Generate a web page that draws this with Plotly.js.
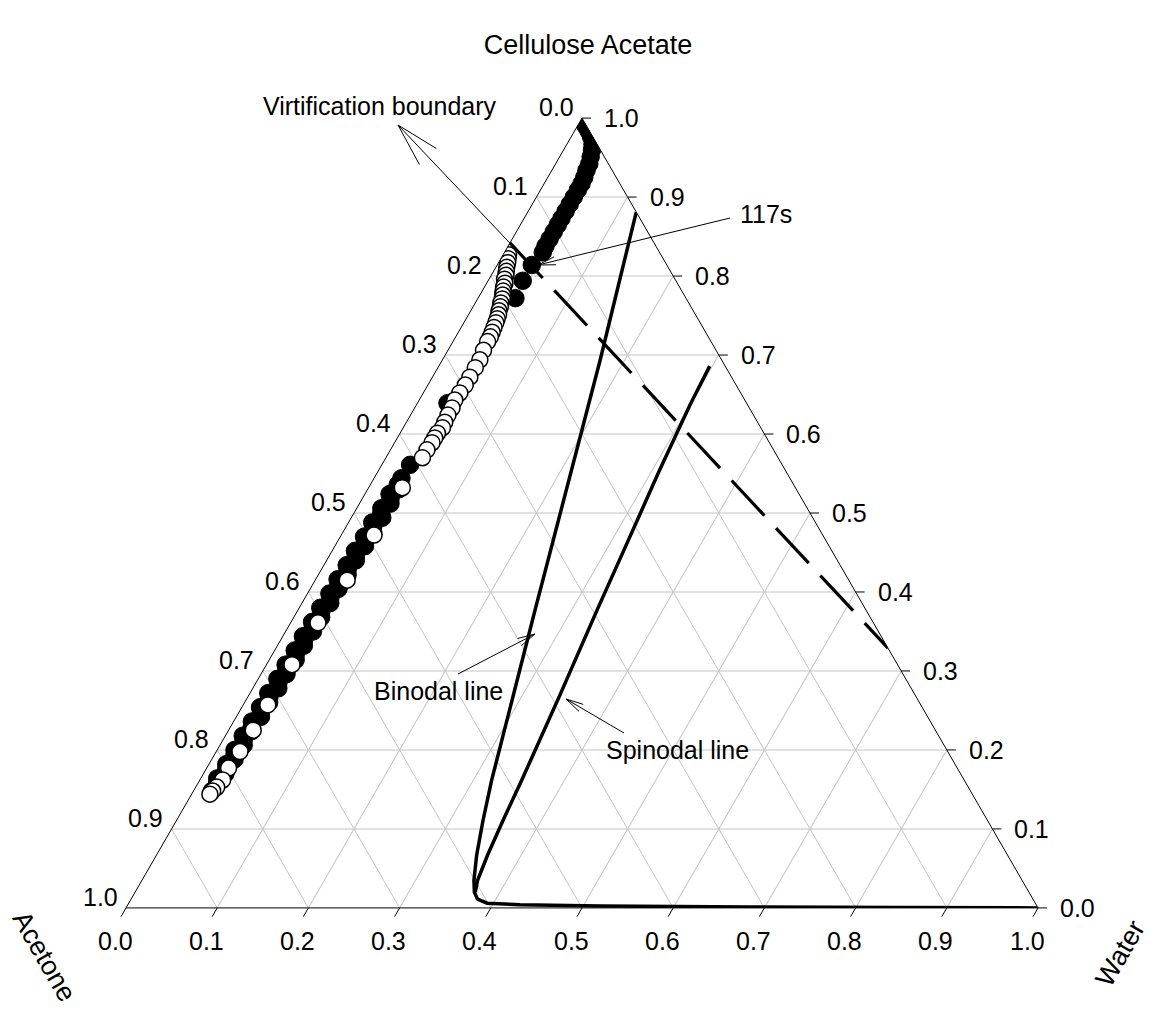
<!DOCTYPE html>
<html>
<head>
<meta charset="utf-8">
<script src="https://cdn.plot.ly/plotly-3.0.1.min.js"></script>
<style>html,body{margin:0;padding:0;background:#ffffff;}</style>
</head>
<body>
<div id="chart" style="width:1156px;height:1010px;"></div>
<script>
// ---------------- DATA ----------------
// Ternary components: CA = Cellulose Acetate (top), Water (bottom-right); Acetone = 1 - CA - Water
const tickFractions = [0.0, 0.1, 0.2, 0.3, 0.4, 0.5, 0.6, 0.7, 0.8, 0.9, 1.0];
const tickLabels = ['0.0', '0.1', '0.2', '0.3', '0.4', '0.5', '0.6', '0.7', '0.8', '0.9', '1.0'];

// Filled circles (film composition path)
const filledCA = [0.990, 0.984, 0.976, 0.967, 0.960, 0.951, 0.942, 0.934, 0.925, 0.917, 0.909, 0.900, 0.891, 0.882, 0.873, 0.865, 0.856, 0.847, 0.838, 0.830, 0.814, 0.794, 0.772,
  0.639, 0.561, 0.544,
  0.536, 0.530, 0.524, 0.518, 0.512, 0.506, 0.500, 0.494, 0.488, 0.482, 0.476, 0.470, 0.464, 0.458, 0.452, 0.446, 0.440, 0.434, 0.428, 0.422, 0.416, 0.410, 0.404, 0.398, 0.392, 0.386, 0.380, 0.374, 0.368, 0.362, 0.356, 0.350, 0.344, 0.338, 0.332, 0.326, 0.320, 0.314, 0.308, 0.302, 0.296, 0.290, 0.284, 0.278, 0.272, 0.266, 0.260, 0.254, 0.248, 0.242, 0.236, 0.230, 0.224, 0.218, 0.212, 0.206, 0.200, 0.194, 0.188, 0.182, 0.176, 0.170, 0.164, 0.158, 0.152, 0.148];
const filledWater = [0.009, 0.015, 0.022, 0.028, 0.031, 0.034, 0.037, 0.038, 0.040, 0.041, 0.041, 0.041, 0.041, 0.041, 0.041, 0.041, 0.041, 0.041, 0.041, 0.042, 0.038, 0.038, 0.041,
  0.033, 0.031, 0.030,
  0.030, 0.034, 0.027, 0.031, 0.034, 0.027, 0.030, 0.034, 0.026, 0.030, 0.033, 0.026, 0.030, 0.033, 0.025, 0.029, 0.032, 0.025, 0.029, 0.032, 0.024, 0.028, 0.031, 0.024, 0.028, 0.031, 0.023, 0.027, 0.030, 0.023, 0.027, 0.030, 0.022, 0.026, 0.029, 0.022, 0.026, 0.029, 0.021, 0.025, 0.028, 0.021, 0.025, 0.028, 0.020, 0.024, 0.027, 0.020, 0.024, 0.027, 0.020, 0.023, 0.026, 0.019, 0.023, 0.026, 0.019, 0.022, 0.025, 0.019, 0.022, 0.024, 0.018, 0.021, 0.022, 0.020];

// Open circles (second composition path)
const openCA = [0.827, 0.822, 0.817, 0.811, 0.806, 0.801, 0.796, 0.791, 0.786, 0.781, 0.776, 0.771, 0.766, 0.761, 0.756, 0.751, 0.746, 0.741, 0.735, 0.729, 0.723, 0.717, 0.706, 0.694, 0.684, 0.672, 0.662, 0.652, 0.643, 0.633, 0.624, 0.615, 0.608, 0.601, 0.595, 0.589, 0.580, 0.570, 0.532, 0.472, 0.415, 0.361, 0.308, 0.257, 0.225, 0.198, 0.177, 0.162, 0.153, 0.148, 0.144];
const openWater = [0.006, 0.008, 0.010, 0.012, 0.014, 0.016, 0.017, 0.020, 0.021, 0.023, 0.025, 0.027, 0.028, 0.030, 0.031, 0.033, 0.034, 0.035, 0.036, 0.037, 0.038, 0.038, 0.039, 0.041, 0.041, 0.041, 0.041, 0.040, 0.039, 0.041, 0.041, 0.042, 0.043, 0.041, 0.041, 0.041, 0.040, 0.040, 0.037, 0.036, 0.035, 0.030, 0.028, 0.027, 0.027, 0.026, 0.024, 0.025, 0.023, 0.021, 0.020];

// Binodal line
const binodalCA = [0.881, 0.694, 0.377, 0.162, 0.111, 0.067, 0.035, 0.020, 0.011, 0.006, 0.004, 0.0025, 0.0013, 0.0006, 0.0];
const binodalWater = [0.119, 0.173, 0.260, 0.320, 0.336, 0.351, 0.364, 0.372, 0.380, 0.393, 0.430, 0.519, 0.684, 0.848, 1.0];

// Spinodal line
const spinodalCA = [0.686, 0.637, 0.554, 0.466, 0.377, 0.270, 0.162, 0.111, 0.067, 0.035, 0.020];
const spinodalWater = [0.297, 0.300, 0.308, 0.318, 0.328, 0.341, 0.353, 0.358, 0.363, 0.368, 0.373];

// Vitrification boundary
const vitrCA = [0.842, 0.329];
const vitrWater = [0.000, 0.671];

// ---------------- LAYOUT GEOMETRY ----------------
const W = 1156, H = 1010;
const ML = 126, MR = 118, MT = 118, MB = 102;
const PW = W - ML - MR, PH = H - MT - MB;
const FONT = 'Liberation Sans, Arial, Helvetica, sans-serif';
const X = px => (px - ML) / PW;          // pixel -> paper
const Y = py => (H - MB - py) / PH;
const triW = PW, triH = PW * Math.sqrt(3) / 2;
const yTop = MT + (PH - triH) / 2, yBot = yTop + triH;
const xL = ML, xR = ML + PW;

function acetoneOf(ca, w) { return ca.map((v, i) => Math.max(0, 1 - v - w[i])); }

const traces = [
  {type: 'scatterternary', mode: 'lines', a: vitrCA, b: acetoneOf(vitrCA, vitrWater), c: vitrWater,
   line: {color: 'black', width: 3.2, dash: '48px,17px'}, hoverinfo: 'skip'},
  {type: 'scatterternary', mode: 'lines', a: binodalCA, b: acetoneOf(binodalCA, binodalWater), c: binodalWater,
   line: {color: 'black', width: 3.5}, hoverinfo: 'skip'},
  {type: 'scatterternary', mode: 'lines', a: spinodalCA, b: acetoneOf(spinodalCA, spinodalWater), c: spinodalWater,
   line: {color: 'black', width: 3.5}, hoverinfo: 'skip'},
  {type: 'scatterternary', mode: 'markers', a: filledCA, b: acetoneOf(filledCA, filledWater), c: filledWater,
   marker: {symbol: 'circle', size: 17.5, color: 'black', line: {color: 'black', width: 1}}, hoverinfo: 'skip'},
  {type: 'scatterternary', mode: 'markers', a: openCA, b: acetoneOf(openCA, openWater), c: openWater,
   marker: {symbol: 'circle', size: 16, color: 'white', line: {color: 'black', width: 1.5}}, hoverinfo: 'skip'}
];

function axisCfg() {
  return {
    tickmode: 'array', tickvals: tickFractions, ticks: '', showticklabels: false,
    showline: true, linecolor: 'black', linewidth: 1,
    showgrid: true, gridcolor: '#c4c4c4', gridwidth: 1,
    title: {text: ''}
  };
}

const shapes = [];
const annotations = [];
function label(text, px, py, size, angle, xanchor) {
  return {text: text, xref: 'paper', yref: 'paper', x: X(px), y: Y(py), xanchor: xanchor || 'center', yanchor: 'middle',
    showarrow: false, textangle: angle || 0, font: {family: FONT, size: size, color: 'black'}};
}

// tick marks and tick labels placed along the triangle edges
tickFractions.forEach((f, i) => {
  // bottom edge: Water fraction
  const bx = xL + f * triW, by = yBot;
  shapes.push({type: 'line', xref: 'paper', yref: 'paper', x0: X(bx), y0: Y(by), x1: X(bx - 5), y1: Y(by + 8.7),
    line: {color: 'black', width: 1}});
  annotations.push(label(tickLabels[i], bx - 11, by + 33, 25));
  // right edge: Cellulose Acetate fraction
  const rx = xR - f * triW / 2, ry = yBot - f * triH;
  shapes.push({type: 'line', xref: 'paper', yref: 'paper', x0: X(rx), y0: Y(ry), x1: X(rx + 9), y1: Y(ry),
    line: {color: 'black', width: 1}});
  annotations.push(label(tickLabels[i], rx + 20, ry, 25, 0, 'left'));
  // left edge: Acetone fraction
  const lx = xL + (1 - f) * triW / 2, ly = yBot - (1 - f) * triH;
  annotations.push(label(tickLabels[i], lx - 26, ly - 11, 25));
});

// arrows (open heads)
function arrow(tx, ty, hx, hy, len, ang) {
  const dx = tx - hx, dy = ty - hy, d = Math.hypot(dx, dy), ux = dx / d, uy = dy / d;
  const r = ang * Math.PI / 180;
  const b1x = hx + len * (ux * Math.cos(r) - uy * Math.sin(r)), b1y = hy + len * (ux * Math.sin(r) + uy * Math.cos(r));
  const b2x = hx + len * (ux * Math.cos(-r) - uy * Math.sin(-r)), b2y = hy + len * (ux * Math.sin(-r) + uy * Math.cos(-r));
  return {type: 'path', xref: 'paper', yref: 'paper',
    path: `M${X(tx)},${Y(ty)} L${X(hx)},${Y(hy)} M${X(b1x)},${Y(b1y)} L${X(hx)},${Y(hy)} L${X(b2x)},${Y(b2y)}`,
    line: {color: 'black', width: 1}};
}
shapes.push(arrow(542, 277, 398, 125, 45, 15));
shapes.push(arrow(730, 218, 538, 265, 18, 13));
shapes.push(arrow(458, 674, 535, 634, 18, 13));
shapes.push(arrow(624, 733, 566, 699, 18, 13));

annotations.push(label('Virtification boundary', 380, 106, 25));
annotations.push(label('117s', 766, 214, 25));
annotations.push(label('Binodal line', 438, 691, 25));
annotations.push(label('Spinodal line', 677, 750, 25));
annotations.push(label('Acetone', 44, 956, 27, 60));
annotations.push(label('Water', 1120, 954, 27, -60));

const layout = {
  width: W, height: H,
  margin: {l: ML, r: MR, t: MT, b: MB, pad: 0},
  paper_bgcolor: 'white',
  showlegend: false,
  font: {family: FONT, color: 'black'},
  title: {text: 'Cellulose Acetate', font: {family: FONT, size: 27, color: 'black'},
    x: 588 / W, xanchor: 'center', y: 1 - 45 / H, yanchor: 'middle'},
  ternary: {
    sum: 1, bgcolor: 'white',
    domain: {x: [0, 1], y: [0, 1]},
    aaxis: axisCfg(), baxis: axisCfg(), caxis: axisCfg()
  },
  shapes: shapes,
  annotations: annotations
};

Plotly.newPlot('chart', traces, layout, {staticPlot: true, displayModeBar: false});
</script>
</body>
</html>
